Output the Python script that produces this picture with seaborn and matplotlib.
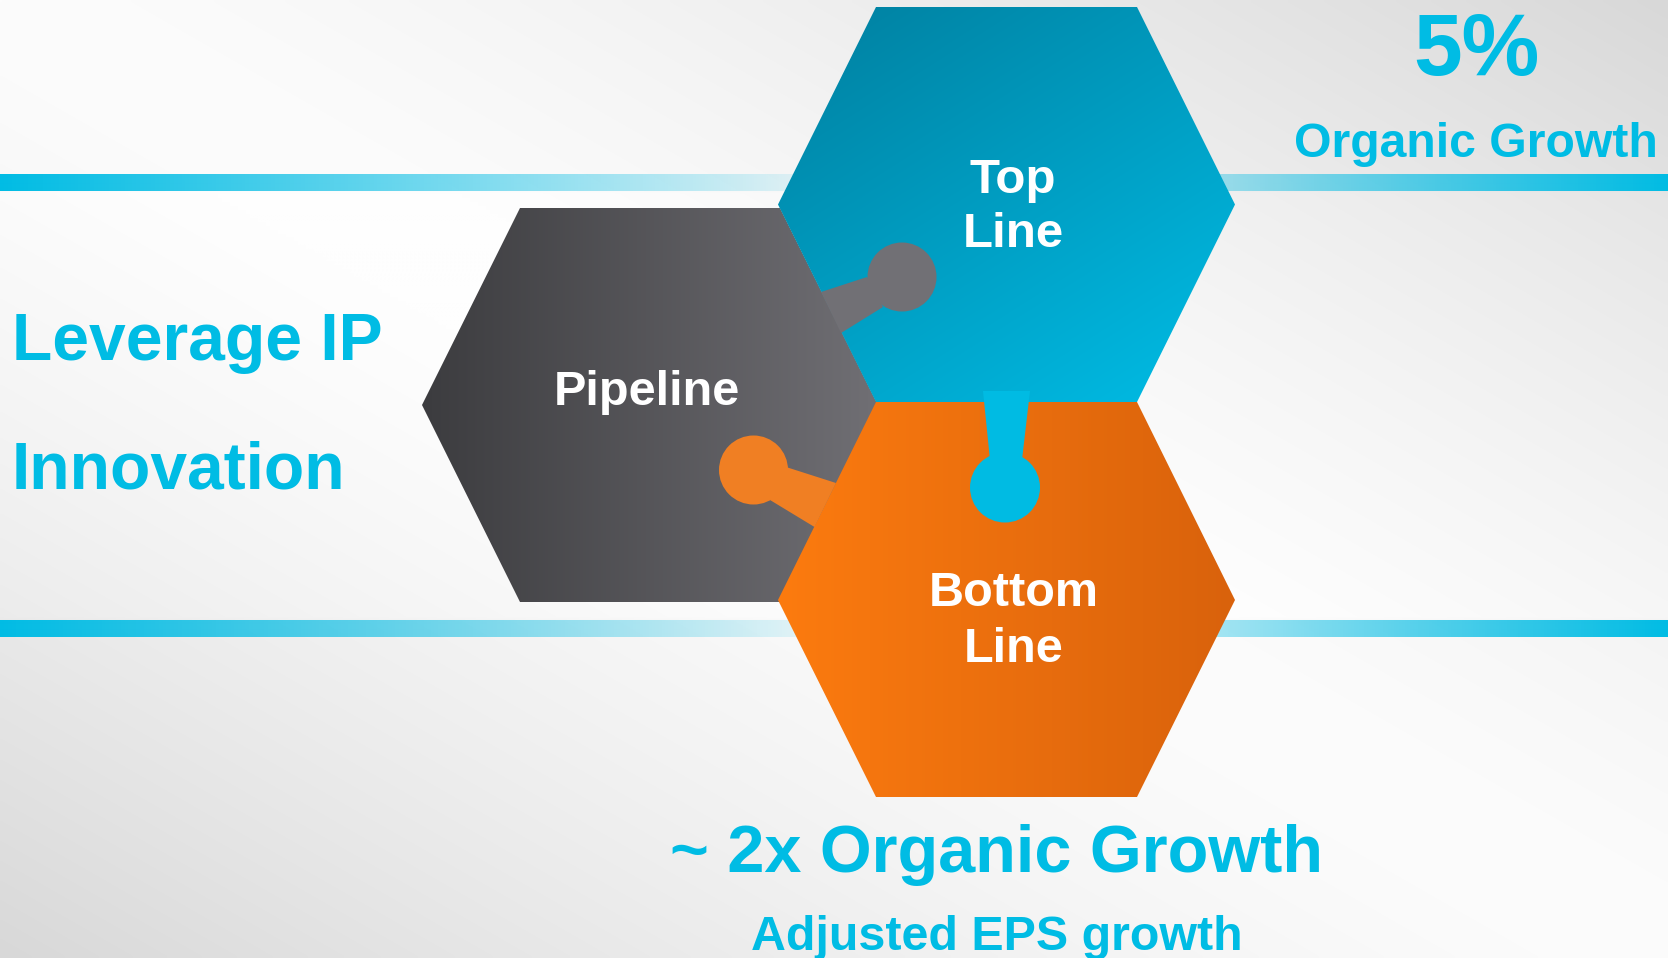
import numpy as np
import matplotlib
matplotlib.use("Agg")
import matplotlib.pyplot as plt
import seaborn as sns
from matplotlib.patches import Polygon, Circle
from matplotlib.colors import to_rgb

sns.set_theme(style="white")
plt.rcParams['font.family'] = ['Liberation Sans', 'DejaVu Sans']

# ---- content ----
hex_labels = ["Top\nLine", "Pipeline", "Bottom\nLine"]
left_labels = ["Leverage IP", "Innovation"]
top_metric = "5%"
top_metric_label = "Organic Growth"
bottom_metric = "~ 2x Organic Growth"
bottom_metric_label = "Adjusted EPS growth"

# ---- colours ----
CYAN = "#00BCE4"
hex_grad = {
    "top": ("#007F9F", "#00BDE6"),
    "pipe": ("#3C3C3F", "#706F74"),
    "bottom": ("#FC7B0F", "#D9620C"),
}
conn_colors = {"gray": "#717075", "cyan": "#00BBE3", "orange": "#F07F23"}

W, H = 1668, 958
fig = plt.figure(figsize=(W / 100, H / 100), dpi=100)
ax = fig.add_axes([0, 0, 1, 1])


def finish_limits():
    ax.set_xlim(0, W)
    ax.set_ylim(H, 0)
    ax.set_aspect("auto")
    ax.axis("off")


# ---- background ----
yy, xx = np.mgrid[0:H:4, 0:W:4]
t = xx / W - yy / H
g = 252 - 36 * np.abs(t) ** 1.4
mid = (yy > 190) & (yy < 620)
g = np.where(mid, np.minimum(g + 3, 254), g)
bg = np.dstack([g, g, g]) / 255.0
ax.imshow(bg, extent=(0, W, H, 0), interpolation="bilinear", zorder=0)

# ---- bands ----
xs = np.arange(W, dtype=float)
alpha = np.zeros(W)
left = xs < 850
alpha[left] = ((850 - xs[left]) / 850) ** 0.85
right = xs > 1030
alpha[right] = ((xs[right] - 1030) / (W - 1030)) ** 0.85
band = np.zeros((1, W, 4))
band[..., :3] = to_rgb(CYAN)
band[..., 3] = np.clip(alpha, 0, 1)
for y0, y1 in [(174, 191), (620, 637)]:
    ax.imshow(band, extent=(0, W, y1, y0), interpolation="bilinear", zorder=1)


# ---- hexagons ----
def hexagon(x0, x1, x2, x3, y0, ym, y1):
    return [(x1, y0), (x2, y0), (x3, ym), (x2, y1), (x1, y1), (x0, ym)]


def grad_fill(verts, c0, c1, direction, z):
    poly = Polygon(verts, closed=True, facecolor="none", edgecolor="none", zorder=z)
    ax.add_patch(poly)
    xs_ = [v[0] for v in verts]
    ys_ = [v[1] for v in verts]
    xa, xb, ya, yb = min(xs_), max(xs_), min(ys_), max(ys_)
    n = 200
    gy, gx = np.mgrid[0:1:n * 1j, 0:1:n * 1j]
    if direction == "h":
        f = gx
    else:
        f = np.clip((gx * 0.55 + gy * 0.75) / 1.3, 0, 1)
    a0, a1 = np.array(to_rgb(c0)), np.array(to_rgb(c1))
    img = a0[None, None, :] * (1 - f[..., None]) + a1[None, None, :] * f[..., None]
    im = ax.imshow(img, extent=(xa, xb, yb, ya), interpolation="bilinear", zorder=z)
    im.set_clip_path(poly)


top_hex = hexagon(778, 876, 1137, 1235, 7, 204.5, 402)
pipe_hex = hexagon(422, 520, 780, 878, 208, 405, 602)
bot_hex = hexagon(778, 876, 1137, 1235, 402, 600, 797)

grad_fill(pipe_hex, *hex_grad["pipe"], "h", 2)
grad_fill(top_hex, *hex_grad["top"], "d", 2)
grad_fill(bot_hex, *hex_grad["bottom"], "h", 2)

# ---- connectors ----
ax.add_patch(Polygon([(821, 292), (867, 277), (883, 307), (841, 333)],
                     closed=True, facecolor=conn_colors["gray"], edgecolor="none", zorder=3))
ax.add_patch(Circle((902, 277), 34.5, facecolor=conn_colors["gray"], edgecolor="none", zorder=3))

ax.add_patch(Polygon([(983, 391), (1030, 391), (1022, 460), (990, 460)],
                     closed=True, facecolor=conn_colors["cyan"], edgecolor="none", zorder=3))
ax.add_patch(Circle((1005, 487.5), 35, facecolor=conn_colors["cyan"], edgecolor="none", zorder=3))

ax.add_patch(Polygon([(786, 467), (836, 483), (814.5, 527), (770, 500)],
                     closed=True, facecolor=conn_colors["orange"], edgecolor="none", zorder=3))
ax.add_patch(Circle((753.5, 470), 34.5, facecolor=conn_colors["orange"], edgecolor="none", zorder=3))

# ---- texts ----
bold = dict(fontweight="bold", family=["Liberation Sans", "DejaVu Sans"])

# hexagon labels
ax.text(1013, 193, hex_labels[0].split("\n")[0], ha="center", va="baseline",
        color="white", fontsize=35.5, zorder=5, **bold)
ax.text(1013, 247, hex_labels[0].split("\n")[1], ha="center", va="baseline",
        color="white", fontsize=35.5, zorder=5, **bold)
ax.text(647, 405, hex_labels[1], ha="center", va="baseline",
        color="white", fontsize=35, zorder=5, **bold)
ax.text(1014, 606, hex_labels[2].split("\n")[0], ha="center", va="baseline",
        color="white", fontsize=35, zorder=5, **bold)
ax.text(1014, 662, hex_labels[2].split("\n")[1], ha="center", va="baseline",
        color="white", fontsize=35, zorder=5, **bold)

# left labels
ax.text(12, 360, left_labels[0], ha="left", va="baseline", color=CYAN,
        fontsize=47.5, zorder=5, **bold)
ax.text(12, 488, left_labels[1], ha="left", va="baseline", color=CYAN,
        fontsize=47.5, zorder=5, **bold)

# top-right metric
ax.text(1476, 75, top_metric, ha="center", va="baseline", color=CYAN,
        fontsize=63, zorder=5, **bold)
ax.text(1476, 157, top_metric_label, ha="center", va="baseline", color=CYAN,
        fontsize=34.7, zorder=5, **bold)

# bottom metric
ax.text(997, 872, bottom_metric, ha="center", va="baseline", color=CYAN,
        fontsize=48, zorder=5, **bold)
ax.text(997, 950, bottom_metric_label, ha="center", va="baseline", color=CYAN,
        fontsize=34.8, zorder=5, **bold)

finish_limits()
fig.savefig("out.png", dpi=100)
